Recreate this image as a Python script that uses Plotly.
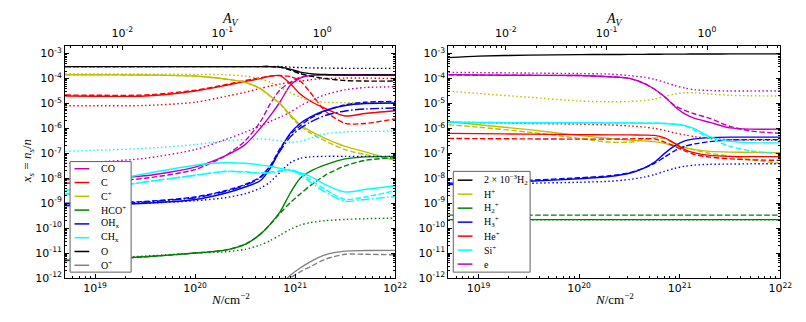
import plotly.graph_objects as go

# column density grid, log10(N / cm^-2), shared by every curve
log_N = [18.7, 19.0, 19.5, 20.0, 20.3, 20.5, 20.65, 20.75, 20.85, 20.95, 21.05, 21.15, 21.3, 21.5, 21.7, 22.0]

# ---- left panel: log10 abundances x_s ----
co_solid = [-8.05, -8.02, -7.9, -7.55, -7.1, -6.65, -6.0, -5.5, -4.93, -4.28, -3.98, -3.88, -3.85, -3.85, -3.85, -3.85]
co_dash = [-8.2, -8.15, -8.0, -7.65, -7.1, -6.5, -5.75, -5.02, -4.45, -4.15, -3.95, -3.88, -3.85, -3.85, -3.85, -3.85]
co_dot = [-7.4, -7.35, -7.2, -6.85, -6.45, -6.15, -5.9, -5.72, -5.55, -5.35, -5.1, -4.9, -4.65, -4.45, -4.36, -4.33]

c_solid = [-4.7, -4.71, -4.7, -4.5, -4.28, -4.12, -4.0, -3.9, -3.88, -4.2, -4.62, -4.9, -5.2, -5.5, -5.4, -5.29]
c_dash = [-4.66, -4.67, -4.66, -4.47, -4.25, -4.08, -3.97, -3.9, -3.88, -3.92, -4.1, -4.55, -5.3, -5.8, -5.8, -5.62]
c_dot = [-5.09, -5.09, -5.08, -4.95, -4.72, -4.55, -4.4, -4.3, -4.22, -4.15, -4.1, -4.05, -4.0, -3.98, -3.98, -4.0]

cp_solid = [-3.85, -3.85, -3.86, -3.9, -4.02, -4.15, -4.4, -4.7, -5.0, -5.45, -5.85, -6.1, -6.4, -6.72, -6.94, -7.28]
cp_dash = [-3.85, -3.85, -3.86, -3.9, -4.02, -4.15, -4.4, -4.7, -5.02, -5.5, -5.9, -6.18, -6.5, -6.85, -7.05, -7.25]
cp_dot = [-3.82, -3.82, -3.82, -3.83, -3.85, -3.9, -4.02, -4.15, -4.35, -4.55, -4.75, -4.88, -4.95, -4.97, -4.97, -4.97]

hco_solid = [-11.3, -11.25, -11.15, -11.0, -10.88, -10.65, -10.25, -9.85, -9.34, -8.6, -8.0, -7.72, -7.46, -7.22, -7.14, -7.12]
hco_dash = [-11.3, -11.25, -11.15, -11.0, -10.88, -10.65, -10.25, -9.85, -9.4, -8.98, -8.63, -8.3, -7.88, -7.5, -7.28, -7.17]
hco_dot = [-11.25, -11.2, -11.12, -11.0, -10.95, -10.85, -10.68, -10.5, -10.28, -10.05, -9.88, -9.78, -9.7, -9.65, -9.62, -9.6]

oh_solid = [-9.1, -9.05, -9.0, -8.85, -8.6, -8.35, -8.1, -7.6, -6.85, -6.2, -5.8, -5.55, -5.28, -5.08, -5.0, -4.98]
oh_dash = [-9.0, -8.98, -8.93, -8.75, -8.5, -8.25, -7.95, -7.5, -6.8, -6.25, -5.9, -5.6, -5.3, -5.05, -4.95, -4.92]
oh_dot = [-9.05, -9.03, -9.0, -8.9, -8.78, -8.62, -8.4, -8.15, -7.75, -7.38, -7.2, -7.14, -7.12, -7.12, -7.12, -7.12]
oh_dashdot = [-9.02, -9.0, -8.95, -8.78, -8.53, -8.28, -7.98, -7.55, -6.9, -6.35, -6.0, -5.75, -5.48, -5.3, -5.22, -5.18]

ch_solid = [-8.5, -8.2, -7.82, -7.48, -7.38, -7.4, -7.46, -7.52, -7.6, -7.68, -7.78, -7.92, -8.25, -8.55, -8.45, -8.3]
ch_dash = [-8.65, -8.45, -8.15, -7.88, -7.72, -7.74, -7.78, -7.76, -7.7, -7.65, -7.8, -8.05, -8.45, -8.85, -8.75, -8.5]
ch_dot = [-6.92, -6.88, -6.8, -6.65, -6.5, -6.45, -6.42, -6.45, -6.5, -6.56, -6.52, -6.4, -6.22, -6.14, -6.12, -6.11]
ch_dashdot = [-8.65, -8.45, -8.15, -7.88, -7.73, -7.75, -7.8, -7.78, -7.72, -7.68, -7.85, -8.15, -8.55, -8.92, -8.85, -8.73]

o_solid = [-3.52, -3.52, -3.52, -3.52, -3.52, -3.52, -3.52, -3.52, -3.54, -3.62, -3.74, -3.8, -3.84, -3.86, -3.86, -3.86]
o_dash = [-3.52, -3.52, -3.52, -3.52, -3.52, -3.52, -3.52, -3.52, -3.55, -3.66, -3.8, -3.9, -4.0, -4.08, -4.1, -4.1]
o_dot = [-3.52, -3.52, -3.52, -3.52, -3.52, -3.52, -3.52, -3.52, -3.52, -3.54, -3.56, -3.57, -3.58, -3.59, -3.59, -3.59]

op_solid = [None, None, None, None, None, None, None, None, -12.3, -11.9, -11.6, -11.35, -11.07, -10.92, -10.9, -10.89]
op_dash = [None, None, None, None, None, None, None, None, -12.4, -12.0, -11.75, -11.55, -11.25, -11.05, -11.05, -11.07]

# ---- right panel ----
h2_solid = [-3.16, -3.1, -3.06, -3.04, -3.035, -3.03, -3.03, -3.025, -3.02, -3.02, -3.02, -3.015, -3.015, -3.01, -3.01, -3.01]

hp_solid = [-5.72, -5.85, -6.05, -6.28, -6.4, -6.47, -6.5, -6.53, -6.6, -6.7, -6.78, -6.85, -6.92, -6.95, -6.96, -6.97]
hp_dash = [-5.85, -5.95, -6.15, -6.4, -6.55, -6.55, -6.45, -6.38, -6.42, -6.6, -6.75, -6.87, -7.0, -7.12, -7.25, -7.4]
hp_dot = [-4.5, -4.6, -4.75, -4.9, -4.93, -4.92, -4.88, -4.82, -4.72, -4.62, -4.57, -4.57, -4.62, -4.67, -4.69, -4.7]

h2p_solid = [-9.66, -9.66, -9.66, -9.66, -9.66, -9.66, -9.66, -9.66, -9.66, -9.66, -9.66, -9.66, -9.66, -9.66, -9.66, -9.66]
h2p_dash = [-9.48, -9.48, -9.48, -9.48, -9.48, -9.48, -9.48, -9.48, -9.48, -9.48, -9.48, -9.48, -9.48, -9.48, -9.48, -9.48]
h2p_dot = [-9.67, -9.67, -9.67, -9.67, -9.67, -9.67, -9.67, -9.67, -9.67, -9.67, -9.67, -9.67, -9.67, -9.67, -9.67, -9.67]

h3p_solid = [-8.25, -8.2, -8.12, -8.02, -7.93, -7.8, -7.58, -7.35, -7.0, -6.7, -6.5, -6.42, -6.37, -6.35, -6.35, -6.35]
h3p_dash = [-8.2, -8.16, -8.08, -7.98, -7.9, -7.78, -7.58, -7.4, -7.15, -6.9, -6.72, -6.62, -6.53, -6.46, -6.45, -6.45]
h3p_dot = [-8.25, -8.23, -8.2, -8.16, -8.12, -8.05, -7.95, -7.85, -7.72, -7.6, -7.52, -7.47, -7.44, -7.43, -7.42, -7.42]

hep_solid = [-6.2, -6.21, -6.23, -6.25, -6.26, -6.26, -6.27, -6.28, -6.38, -6.6, -6.85, -6.98, -7.08, -7.12, -7.13, -7.13]
hep_dash = [-6.4, -6.41, -6.42, -6.43, -6.43, -6.42, -6.41, -6.42, -6.55, -6.72, -6.9, -7.05, -7.15, -7.22, -7.26, -7.28]
hep_dot = [-5.75, -5.77, -5.8, -5.83, -5.86, -5.9, -5.95, -6.0, -6.08, -6.18, -6.26, -6.33, -6.4, -6.45, -6.47, -6.48]

sip_solid = [-5.75, -5.76, -5.77, -5.77, -5.78, -5.78, -5.79, -5.79, -5.8, -5.82, -5.88, -6.02, -6.33, -6.52, -6.57, -6.58]
sip_dash = [-5.75, -5.76, -5.77, -5.77, -5.78, -5.78, -5.79, -5.79, -5.8, -5.83, -5.9, -6.08, -6.4, -6.72, -6.9, -7.02]

e_solid = [-3.85, -3.86, -3.87, -3.88, -3.93, -3.99, -4.2, -4.43, -4.73, -5.12, -5.42, -5.6, -5.76, -5.98, -6.03, -6.03]
e_dash = [-3.85, -3.86, -3.87, -3.88, -3.93, -3.99, -4.2, -4.43, -4.73, -5.08, -5.28, -5.42, -5.6, -5.92, -6.1, -6.2]
e_dot = [-3.75, -3.76, -3.78, -3.8, -3.82, -3.88, -3.95, -4.03, -4.15, -4.28, -4.38, -4.45, -4.48, -4.5, -4.5, -4.5]

LOG_N_PER_AV = 21.27184  # log10(1.87e21), N_H per magnitude of A_V
decades_y = [-12, -11, -10, -9, -8, -7, -6, -5, -4, -3]
decades_N = [19, 20, 21, 22]
decades_AV = [-2, -1, 0]

MAG, RED, YEL, GRN, BLU, CYN, BLK, GRY = "#bf00bf", "#ff0000", "#bfbf00", "#008000", "#0000ff", "#00ffff", "#000000", "#808080"
DASH = {"solid": "solid", "dash": "5.5px,2.4px", "dot": "1.5px,2.5px", "dashdot": "9px,2.4px,1.5px,2.4px"}

left = [
    ("CO", MAG, [("solid", co_solid), ("dash", co_dash), ("dot", co_dot)]),
    ("C", RED, [("solid", c_solid), ("dash", c_dash), ("dot", c_dot)]),
    ("C<sup>+</sup>", YEL, [("solid", cp_solid), ("dash", cp_dash), ("dot", cp_dot)]),
    ("HCO<sup>+</sup>", GRN, [("solid", hco_solid), ("dash", hco_dash), ("dot", hco_dot)]),
    ("OH<sub>x</sub>", BLU, [("solid", oh_solid), ("dash", oh_dash), ("dot", oh_dot), ("dashdot", oh_dashdot)]),
    ("CH<sub>x</sub>", CYN, [("solid", ch_solid), ("dash", ch_dash), ("dot", ch_dot), ("dashdot", ch_dashdot)]),
    ("O", BLK, [("solid", o_solid), ("dash", o_dash), ("dot", o_dot)]),
    ("O<sup>+</sup>", GRY, [("solid", op_solid), ("dash", op_dash)]),
]
right = [
    ("2 × 10<sup>−3</sup>H<sub>2</sub>", BLK, [("solid", h2_solid)]),
    ("H<sup>+</sup>", YEL, [("solid", hp_solid), ("dash", hp_dash), ("dot", hp_dot)]),
    ("H<sub>2</sub><sup>+</sup>", GRN, [("solid", h2p_solid), ("dash", h2p_dash), ("dot", h2p_dot)]),
    ("H<sub>3</sub><sup>+</sup>", BLU, [("solid", h3p_solid), ("dash", h3p_dash), ("dot", h3p_dot)]),
    ("He<sup>+</sup>", RED, [("solid", hep_solid), ("dash", hep_dash), ("dot", hep_dot)]),
    ("Si<sup>+</sup>", CYN, [("solid", sip_solid), ("dash", sip_dash)]),
    ("e", MAG, [("solid", e_solid), ("dash", e_dash), ("dot", e_dot)]),
]

W, H = 806, 322
fig = go.Figure()


def add_panel(species, xaxis, yaxis):
    for name, color, curves in species:
        for style, vals in curves:
            xs = [10 ** n for n, v in zip(log_N, vals) if v is not None]
            ys = [10 ** v for v in vals if v is not None]
            fig.add_trace(go.Scatter(
                x=xs, y=ys, mode="lines", name=name,
                line=dict(color=color, width=1.4, dash=DASH[style], shape="spline", smoothing=0.7),
                showlegend=False, xaxis=xaxis, yaxis=yaxis, hoverinfo="skip"))


add_panel(left, "x", "y")
add_panel(right, "x2", "y2")

# invisible traces so the A_V axes get drawn
for xa, ya in (("x3", "y"), ("x4", "y2")):
    fig.add_trace(go.Scatter(x=[0.01, 1], y=[1e-20, 1e-20], mode="lines", showlegend=False,
                             line=dict(color="rgba(0,0,0,0)"), xaxis=xa, yaxis=ya, hoverinfo="skip"))


def minor_vals(lo, hi):
    return [k * 10.0 ** d for d in range(lo, hi) for k in range(2, 10)]


def pow_text(d):
    return "10<sup>%d</sup>" % d


TICKFONT = dict(family="DejaVu Sans", size=11, color="black")
common = dict(type="log", showgrid=False, zeroline=False, showline=True, linecolor="black", linewidth=1,
              ticks="inside", ticklen=4, tickcolor="black", tickfont=TICKFONT)

Y_DOM = [46 / H, 283 / H]
doms = {"x": [58 / W, 393 / W], "x2": [447 / W, 784 / W]}

layout_axes = {}
for xa, ya, top, xkey, ykey, tkey in (("x", "y", "x3", "xaxis", "yaxis", "xaxis3"),
                                       ("x2", "y2", "x4", "xaxis2", "yaxis2", "xaxis4")):
    layout_axes[xkey] = dict(common, domain=doms[xa], anchor=ya, range=[18.7, 22.0],
                             tickvals=[10.0 ** d for d in decades_N], ticktext=[pow_text(d) for d in decades_N],
                             minor=dict(ticks="inside", ticklen=2, tickcolor="black", tickvals=minor_vals(18, 22)))
    layout_axes[ykey] = dict(common, domain=Y_DOM, anchor=xa, range=[-12, -2.7], mirror="ticks",
                             tickvals=[10.0 ** d for d in decades_y], ticktext=[pow_text(d) for d in decades_y],
                             minor=dict(ticks="inside", ticklen=2, tickcolor="black", tickvals=minor_vals(-12, -2)))
    layout_axes[tkey] = dict(common, domain=doms[xa], anchor=ya, overlaying=xa, side="top",
                             range=[18.7 - LOG_N_PER_AV, 22.0 - LOG_N_PER_AV], ticklabelstandoff=4,
                             tickvals=[10.0 ** d for d in decades_AV], ticktext=[pow_text(d) for d in decades_AV],
                             minor=dict(ticks="inside", ticklen=2, tickcolor="black", tickvals=minor_vals(-3, 1)))

SERIF = "Liberation Serif"
annotations = []
shapes = []


def text(s, x, y, size, angle=0, xanchor="center"):
    annotations.append(dict(text=s, x=x / W, y=1 - y / H, xref="paper", yref="paper", xanchor=xanchor,
                            yanchor="middle", showarrow=False, textangle=angle,
                            font=dict(family=SERIF, size=size, color="black")))


for cx in (225.5, 615.5):
    text("<i>A</i><sub><i>V</i></sub>", cx, 12, 14)
    text("<i>N</i>/cm<sup>−2</sup>", cx, 297, 13)
text("<i>x</i><sub><i>s</i></sub> = <i>n</i><sub><i>s</i></sub>/<i>n</i>", 20, 157, 13, angle=-90)


# hand-drawn legends (matplotlib-style compact boxes)
def legend_box(species, x0, x1, y0, y1, first_row, step, line_x0, text_x):
    shapes.append(dict(type="rect", xref="paper", yref="paper", x0=x0 / W, x1=x1 / W,
                       y0=1 - y1 / H, y1=1 - y0 / H, line=dict(color="#606060", width=1),
                       fillcolor="white", layer="above"))
    for i, (name, color, _) in enumerate(species):
        yc = first_row + i * step
        shapes.append(dict(type="line", xref="paper", yref="paper", x0=line_x0 / W, x1=(line_x0 + 15) / W,
                           y0=1 - yc / H, y1=1 - yc / H, line=dict(color=color, width=1.5), layer="above"))
        text(name, text_x, yc, 10, xanchor="left")


legend_box(left, 63, 125, 157, 270, 164.3, 14.1, 67.5, 92)
legend_box(right, 452, 530, 167, 270, 176, 14.3, 456.5, 481)

fig.update_layout(
    width=W, height=H, autosize=False,
    margin=dict(l=0, r=0, t=0, b=0),
    paper_bgcolor="white", plot_bgcolor="white",
    showlegend=False,
    annotations=annotations,
    shapes=shapes,
    **layout_axes,
)

fig.write_html("out.html")
